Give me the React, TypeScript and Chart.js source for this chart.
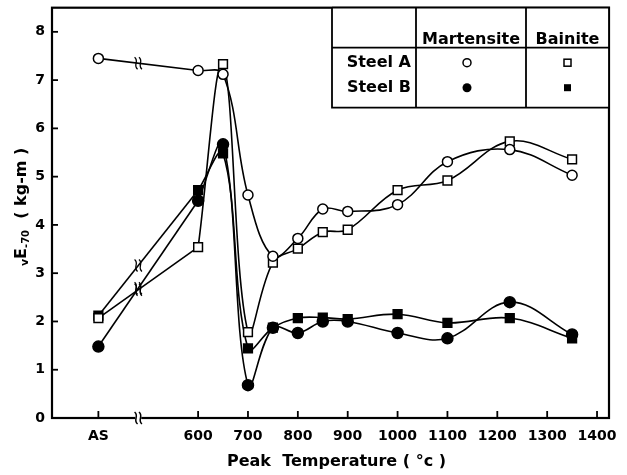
import React, { useEffect, useRef } from 'react';
import { Chart, registerables } from 'chart.js';
Chart.register(...registerables);

// ---- data ----
const AS_POS = 400; // position of the "AS" (as-received) column on the x scale
const BREAK_POS = 480; // axis break between AS and 600
const xTickValues = [400, 600, 700, 800, 900, 1000, 1100, 1200, 1300, 1400];
const yTickValues = [0, 1, 2, 3, 4, 5, 6, 7, 8];
const temps = [600, 650, 700, 750, 800, 850, 900, 1000, 1100, 1225, 1350];

const steelAMartAS = 7.45;
const steelAMart = [7.2, 7.12, 4.62, 3.35, 3.72, 4.33, 4.28, 4.42, 5.31, 5.56, 5.03];
const steelABainAS = 2.07;
const steelABain = [3.54, 7.33, 1.78, 3.22, 3.51, 3.85, 3.9, 4.72, 4.92, 5.73, 5.36];
const steelBMartAS = 1.48;
const steelBMart = [4.5, 5.67, 0.68, 1.87, 1.76, 2.0, 2.0, 1.76, 1.65, 2.4, 1.73];
const steelBBainAS = 2.12;
const steelBBain = [4.72, 5.48, 1.44, 1.87, 2.07, 2.08, 2.05, 2.15, 1.97, 2.07, 1.65];

const FONT = "'DejaVu Sans', sans-serif";

type Series = { label: string; asVal: number; vals: number[]; style: 'circle' | 'rect'; filled: boolean };
const series: Series[] = [
  { label: 'Steel A Martensite', asVal: steelAMartAS, vals: steelAMart, style: 'circle', filled: false },
  { label: 'Steel A Bainite', asVal: steelABainAS, vals: steelABain, style: 'rect', filled: false },
  { label: 'Steel B Martensite', asVal: steelBMartAS, vals: steelBMart, style: 'circle', filled: true },
  { label: 'Steel B Bainite', asVal: steelBBainAS, vals: steelBBain, style: 'rect', filled: true },
];

function drawBreak(ctx: CanvasRenderingContext2D, x: number, y: number, h: number) {
  for (const dx of [-2.2, 2.2]) {
    ctx.beginPath();
    ctx.moveTo(x + dx - 1.5, y - h / 2);
    ctx.bezierCurveTo(x + dx + 3.5, y - h / 6, x + dx - 3.5, y + h / 6, x + dx + 1.5, y + h / 2);
    ctx.stroke();
  }
}

const decorPlugin = {
  id: 'decor',
  afterDatasetsDraw(chart: any) {
    const { ctx, chartArea: ca, scales } = chart;
    const xs = scales.x;
    const ys = scales.y;
    ctx.save();
    ctx.strokeStyle = '#000';
    ctx.fillStyle = '#000';
    // frame
    ctx.lineWidth = 2.2;
    ctx.strokeRect(ca.left, ca.top, ca.right - ca.left, ca.bottom - ca.top);
    // inward ticks
    ctx.lineWidth = 1.8;
    for (const v of xTickValues) {
      const px = xs.getPixelForValue(v);
      ctx.beginPath();
      ctx.moveTo(px, ca.bottom);
      ctx.lineTo(px, ca.bottom - 7);
      ctx.stroke();
    }
    for (const v of yTickValues) {
      const py = ys.getPixelForValue(v);
      ctx.beginPath();
      ctx.moveTo(ca.left, py);
      ctx.lineTo(ca.left + 6, py);
      ctx.stroke();
    }
    // axis break on x axis
    const bx = xs.getPixelForValue(BREAK_POS);
    ctx.fillStyle = '#fff';
    ctx.fillRect(bx - 3, ca.bottom - 2, 6, 4);
    ctx.fillStyle = '#000';
    ctx.lineWidth = 1.5;
    drawBreak(ctx, bx, ca.bottom, 12);
    // break marks on each series segment AS -> 600
    ctx.lineWidth = 1.3;
    for (const s of series) {
      const t = (BREAK_POS - AS_POS) / (temps[0] - AS_POS);
      const v = s.asVal + (s.vals[0] - s.asVal) * t;
      drawBreak(ctx, xs.getPixelForValue(BREAK_POS), ys.getPixelForValue(v), 12);
    }
    ctx.restore();
  },
  afterDraw(chart: any) {
    const { ctx, chartArea: ca } = chart;
    ctx.save();
    ctx.strokeStyle = '#000';
    ctx.fillStyle = '#000';
    // x title
    ctx.font = `bold 16px ${FONT}`;
    ctx.textAlign = 'center';
    ctx.textBaseline = 'middle';
    ctx.fillText('Peak  Temperature ( °c )', (ca.left + ca.right) / 2 + 6, 462);
    // y title with subscripts
    ctx.translate(22, (ca.top + ca.bottom) / 2 - 6);
    ctx.rotate(-Math.PI / 2);
    const parts = [
      { t: 'v', f: `bold 11px ${FONT}`, dy: 3 },
      { t: 'E', f: `bold 16px ${FONT}`, dy: 0 },
      { t: '-70', f: `bold 10px ${FONT}`, dy: 4 },
      { t: '  ( kg-m )', f: `bold 16px ${FONT}`, dy: 0 },
    ];
    let total = 0;
    for (const p of parts) { ctx.font = p.f; total += ctx.measureText(p.t).width; }
    let cx = -total / 2;
    ctx.textAlign = 'left';
    for (const p of parts) {
      ctx.font = p.f;
      ctx.fillText(p.t, cx, p.dy);
      cx += ctx.measureText(p.t).width;
    }
    ctx.restore();

    // legend table
    ctx.save();
    const R = ca.right, T = ca.top;
    const L = R - 277, c1 = R - 193, c2 = R - 83, hd = T + 40, B = T + 100;
    ctx.strokeStyle = '#000';
    ctx.fillStyle = '#fff';
    ctx.fillRect(L, T, R - L, B - T);
    ctx.lineWidth = 1.8;
    ctx.beginPath();
    ctx.moveTo(L, T); ctx.lineTo(L, B); ctx.lineTo(R, B);
    ctx.moveTo(c1, T); ctx.lineTo(c1, B);
    ctx.moveTo(c2, T); ctx.lineTo(c2, B);
    ctx.moveTo(L, hd); ctx.lineTo(R, hd);
    ctx.moveTo(L, T); ctx.lineTo(R, T); ctx.lineTo(R, B);
    ctx.stroke();
    ctx.fillStyle = '#000';
    ctx.font = `bold 16px ${FONT}`;
    ctx.textBaseline = 'middle';
    ctx.textAlign = 'center';
    ctx.fillText('Martensite', (c1 + c2) / 2, T + 32);
    ctx.fillText('Bainite', (c2 + R) / 2, T + 32);
    ctx.textAlign = 'right';
    ctx.fillText('Steel A', c1 - 5, T + 55);
    ctx.fillText('Steel B', c1 - 5, T + 80);
    const mx = (c1 + c2) / 2 - 4, bxm = (c2 + R) / 2;
    ctx.lineWidth = 1.5;
    ctx.beginPath(); ctx.arc(mx, T + 55, 4, 0, Math.PI * 2); ctx.stroke();
    ctx.strokeRect(bxm - 3.5, T + 51.5, 7, 7);
    ctx.beginPath(); ctx.arc(mx, T + 80, 4.5, 0, Math.PI * 2); ctx.fill();
    ctx.fillRect(bxm - 3.5, T + 76.5, 7, 7);
    ctx.restore();
  },
};

export default function App() {
  const ref = useRef<HTMLCanvasElement | null>(null);
  useEffect(() => {
    document.body.style.margin = '0';
    if (!ref.current) return;
    const datasets: any[] = [];
    series.forEach((s, i) => {
      const common = {
        borderColor: '#000',
        backgroundColor: s.filled ? '#000' : '#fff',
        pointBorderColor: '#000',
        pointBackgroundColor: s.filled ? '#000' : '#fff',
        pointStyle: s.style,
        pointRadius: s.style === 'rect' ? 6.2 : (s.filled ? 5.5 : 5),
        pointBorderWidth: 1.5,
        borderWidth: 1.6,
        showLine: true,
        order: i,
      };
      datasets.push({
        ...common,
        label: s.label,
        data: temps.map((t, j) => ({ x: t, y: s.vals[j] })),
        tension: 0.38,
      });
      datasets.push({
        ...common,
        label: s.label + ' AS',
        data: [{ x: AS_POS, y: s.asVal }, { x: temps[0], y: s.vals[0] }],
        tension: 0,
        pointRadius: [common.pointRadius, 0],
        order: i + 10,
      });
    });
    const chart = new Chart(ref.current, {
      type: 'scatter',
      data: { datasets },
      options: {
        animation: false,
        responsive: false,
        devicePixelRatio: 1,
        layout: { padding: { left: 0, right: 18, top: 7, bottom: 0 } },
        plugins: { legend: { display: false }, tooltip: { enabled: false } },
        scales: {
          x: {
            type: 'linear',
            min: 307,
            max: 1424,
            grid: { display: false, drawTicks: false },
            border: { display: false },
            afterBuildTicks: (sc: any) => { sc.ticks = xTickValues.map((v) => ({ value: v })); },
            afterFit: (sc: any) => { sc.height = 57; sc.paddingLeft = 0; sc.paddingRight = 0; },
            ticks: {
              color: '#000',
              padding: 10,
              maxRotation: 0,
              autoSkip: false,
              font: { family: FONT, size: 14, weight: 'bold' },
              callback: (v: any) => (v === AS_POS ? 'AS' : String(v)),
            },
          },
          y: {
            type: 'linear',
            min: 0,
            max: 8.5,
            grid: { display: false, drawTicks: false },
            border: { display: false },
            afterBuildTicks: (sc: any) => { sc.ticks = yTickValues.map((v) => ({ value: v })); },
            afterFit: (sc: any) => { sc.width = 52; sc.paddingTop = 0; sc.paddingBottom = 0; },
            ticks: {
              color: '#000',
              padding: 7,
              font: { family: FONT, size: 14, weight: 'bold' },
            },
          },
        },
      },
      plugins: [decorPlugin],
    } as any);
    return () => chart.destroy();
  }, []);
  return (
    <div style={{ width: 627, height: 475, background: '#fff' }}>
      <canvas ref={ref} width={627} height={475} style={{ display: 'block' }} />
    </div>
  );
}
